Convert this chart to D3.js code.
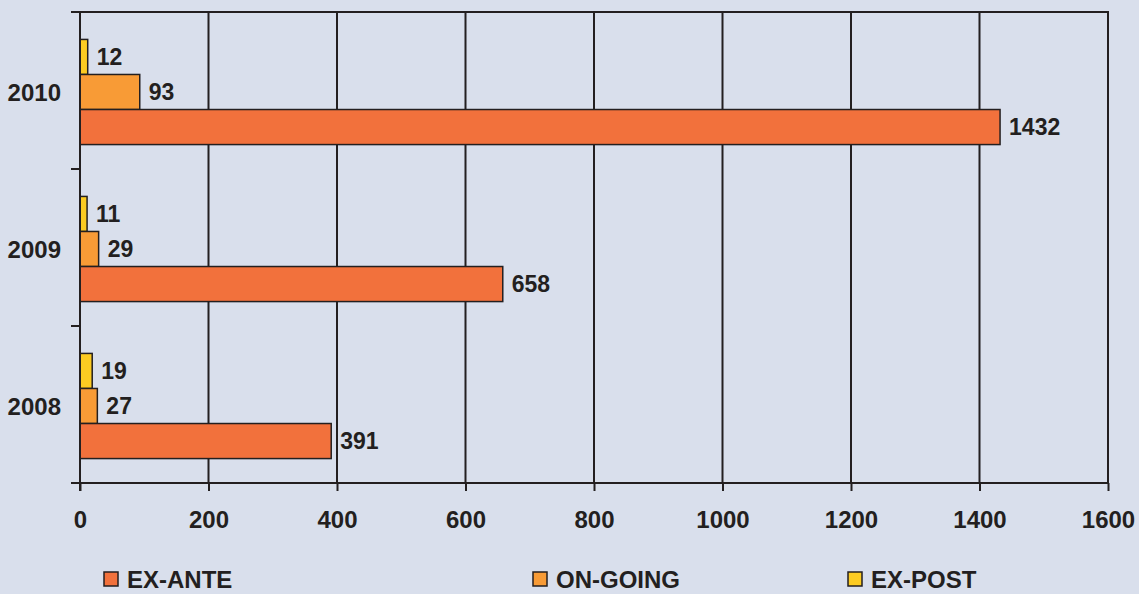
<!DOCTYPE html>
<html>
<head>
<meta charset="utf-8">
<script src="https://cdn.jsdelivr.net/npm/d3@7"></script>
<style>
  html, body { margin: 0; padding: 0; background: #d9dfec; }
  svg { display: block; font-family: "Liberation Sans", Arial, sans-serif; font-weight: bold; }
</style>
</head>
<body>
<svg id="chart" width="1139" height="594"></svg>
<script>
// years, top to bottom as drawn
var years = ["2010", "2009", "2008"];
var series = ["EX-POST", "ON-GOING", "EX-ANTE"];
var exAnte = [1432, 658, 391];
var onGoing = [93, 29, 27];
var exPost = [12, 11, 19];
var xTicks = [0, 200, 400, 600, 800, 1000, 1200, 1400, 1600];
var legendItems = ["EX-ANTE", "ON-GOING", "EX-POST"];

(function () {
    var ink = "#231f20";
    var colors = {"EX-ANTE": "#f2713c", "ON-GOING": "#f89b36", "EX-POST": "#fccb22"};
    var values = {"EX-ANTE": exAnte, "ON-GOING": onGoing, "EX-POST": exPost};

    var margin = {top: 12, left: 80, right: 31, bottom: 111};
    var width = 1139, height = 594;

    var svg = d3.select("#chart");

    var x = d3.scaleLinear()
        .domain([0, 1600])
        .range([margin.left, width - margin.right]);

    var y = d3.scaleBand()
        .domain(years)
        .range([margin.top, height - margin.bottom])
        .padding(0);

    var inner = d3.scaleBand()
        .domain(series)
        .range([0, y.bandwidth()])
        .paddingInner(0)
        .paddingOuter(0.74);

    var shift = 1.5;

    // vertical grid lines
    svg.append("g")
        .selectAll("line")
        .data(xTicks.slice(1))
        .join("line")
        .attr("x1", d => x(d)).attr("x2", d => x(d))
        .attr("y1", y.range()[0]).attr("y2", y.range()[1])
        .attr("stroke", ink)
        .attr("stroke-width", 2);

    // top border
    svg.append("line")
        .attr("x1", x(0) - 9).attr("x2", x(1600) + 1)
        .attr("y1", y.range()[0]).attr("y2", y.range()[0])
        .attr("stroke", ink).attr("stroke-width", 2);

    // bars
    var rows = [];
    years.forEach(function (yr, i) {
        series.forEach(function (s) {
            rows.push({year: yr, key: s, value: values[s][i]});
        });
    });

    svg.append("g")
        .selectAll("rect")
        .data(rows)
        .join("rect")
        .attr("x", x(0))
        .attr("y", d => y(d.year) + inner(d.key) + shift)
        .attr("width", d => x(d.value) - x(0))
        .attr("height", inner.bandwidth())
        .attr("fill", d => colors[d.key])
        .attr("stroke", ink)
        .attr("stroke-width", 1.5);

    svg.append("g")
        .selectAll("text")
        .data(rows)
        .join("text")
        .attr("x", d => x(d.value) + 9)
        .attr("y", d => y(d.year) + inner(d.key) + shift + inner.bandwidth() / 2)
        .attr("dy", "0.36em")
        .attr("font-size", 23)
        .attr("fill", ink)
        .text(d => d.value);

    // bottom axis
    var xAxis = d3.axisBottom(x)
        .tickValues(xTicks)
        .tickFormat(d3.format("d"))
        .tickSize(8)
        .tickPadding(20)
        .tickSizeOuter(0);

    var gx = svg.append("g")
        .attr("transform", "translate(0," + y.range()[1] + ")")
        .call(xAxis);
    gx.select(".domain").attr("d", "M" + (x(0) - 9) + ",0H" + (x(1600) + 1))
        .attr("stroke", ink).attr("stroke-width", 2);
    gx.selectAll(".tick line").attr("stroke", ink).attr("stroke-width", 2);
    gx.selectAll(".tick text")
        .attr("font-size", 24)
        .attr("font-family", "Liberation Sans, Arial, sans-serif")
        .attr("font-weight", "bold")
        .attr("fill", ink);

    // left axis: line plus ticks at the band edges
    var gy = svg.append("g");
    gy.append("line")
        .attr("x1", x(0)).attr("x2", x(0))
        .attr("y1", y.range()[0]).attr("y2", y.range()[1] + 8)
        .attr("stroke", ink).attr("stroke-width", 2);
    gy.selectAll(".edge")
        .data(years.slice(1))
        .join("line")
        .attr("class", "edge")
        .attr("x1", x(0) - 9).attr("x2", x(0))
        .attr("y1", d => y(d)).attr("y2", d => y(d))
        .attr("stroke", ink).attr("stroke-width", 2);
    gy.selectAll("text")
        .data(years)
        .join("text")
        .attr("x", 61)
        .attr("y", d => y(d) + y.bandwidth() / 2 + 2)
        .attr("dy", "0.36em")
        .attr("text-anchor", "end")
        .attr("font-size", 24)
        .attr("fill", ink)
        .text(d => d);

    // legend
    var legendX = [104, 533, 848];
    var lg = svg.append("g")
        .selectAll("g")
        .data(legendItems)
        .join("g")
        .attr("transform", (d, i) => "translate(" + legendX[i] + ",572)");
    lg.append("rect")
        .attr("width", 14).attr("height", 14)
        .attr("fill", d => colors[d])
        .attr("stroke", ink).attr("stroke-width", 1.5);
    lg.append("text")
        .attr("x", 23).attr("y", 16)
        .attr("font-size", 24)
        .attr("fill", ink)
        .text(d => d);
}());
</script>
</body>
</html>
